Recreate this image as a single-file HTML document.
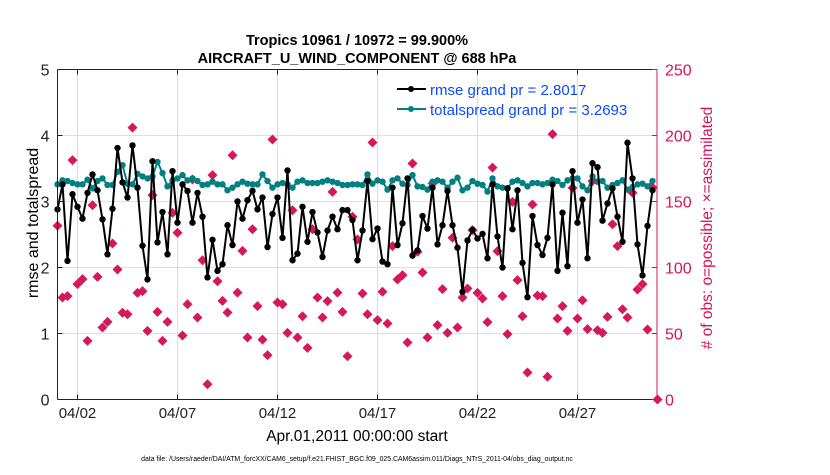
<!DOCTYPE html>
<html><head><meta charset="utf-8">
<style>
body{margin:0;background:#fff;}
svg text{font-family:"Liberation Sans",Helvetica,Arial,sans-serif;}
</style></head>
<body>
<svg id="chart" width="830" height="470" viewBox="0 0 830 470" xmlns="http://www.w3.org/2000/svg">
<g id="grid"></g>
<g id="series"></g>
<g id="axes"></g>
<text x="357" y="45" text-anchor="middle" font-size="14.5" font-weight="bold">Tropics 10961 / 10972 = 99.900%</text>
<text x="357" y="63" text-anchor="middle" font-size="14.5" font-weight="bold">AIRCRAFT_U_WIND_COMPONENT @ 688 hPa</text>
<text transform="translate(38,223) rotate(-90)" text-anchor="middle" font-size="16">rmse and totalspread</text>
<text transform="translate(712,228) rotate(-90)" text-anchor="middle" font-size="15.5" fill="#d4145a"># of obs: o=possible; ×=assimilated</text>
<text x="357" y="441" text-anchor="middle" font-size="15.5">Apr.01,2011 00:00:00 start</text>
<text x="357" y="461" text-anchor="middle" font-size="6.9">data file: /Users/raeder/DAI/ATM_forcXX/CAM6_setup/f.e21.FHIST_BGC.f09_025.CAM6assim.011/Diags_NTrS_2011-04/obs_diag_output.nc</text>
<g>
 <line x1="397" y1="89" x2="426" y2="89" stroke="#000" stroke-width="2"/>
 <circle cx="411" cy="89" r="3" fill="#000"/>
 <text x="430" y="95" font-size="15" fill="#0a4bff">rmse grand pr = 2.8017</text>
 <line x1="397" y1="109" x2="426" y2="109" stroke="#008080" stroke-width="2"/>
 <circle cx="411" cy="109" r="3" fill="#008080"/>
 <text x="430" y="115" font-size="15" fill="#0a4bff">totalspread grand pr = 3.2693</text>
</g>
</svg>
<script>
const rmse=[2.88,3.26,2.10,3.11,2.92,2.74,3.13,3.41,3.17,2.73,2.20,2.89,3.81,3.29,3.06,3.85,3.21,2.33,1.82,3.61,2.38,2.84,2.20,3.46,2.68,3.26,3.16,2.68,3.13,2.77,1.85,2.42,1.95,2.05,2.64,2.34,3.00,2.74,3.02,3.16,2.88,
3.06,2.31,2.81,3.06,2.45,3.47,2.11,2.21,2.92,2.39,2.84,2.53,2.16,2.56,2.77,2.58,2.87,2.87,2.72,2.11,2.56,3.31,2.43,2.59,2.09,2.05,3.21,2.34,2.67,3.35,2.18,2.26,2.78,2.59,3.21,2.35,2.64,3.16,2.64,2.30,
1.63,2.41,2.57,2.44,2.51,2.14,3.26,2.47,2.00,3.20,2.58,3.17,2.07,1.55,2.78,2.34,2.19,2.45,3.26,1.95,2.83,2.02,3.46,2.68,3.03,2.14,3.58,3.52,2.71,2.97,3.20,2.77,2.39,3.89,3.35,2.35,1.88,2.63,3.17];
const spread=[3.26,3.32,3.31,3.28,3.26,3.26,3.33,3.20,3.31,3.35,3.25,3.25,3.45,3.55,3.27,3.26,3.42,3.38,3.35,3.38,3.60,3.43,3.23,3.32,3.35,3.40,3.32,3.35,3.31,3.25,3.26,3.30,3.26,3.26,3.17,3.21,3.26,3.30,3.27,3.26,3.26,
3.41,3.31,3.21,3.26,3.28,3.26,3.21,3.30,3.32,3.28,3.28,3.28,3.30,3.32,3.30,3.28,3.25,3.25,3.26,3.26,3.25,3.41,3.27,3.32,3.30,3.18,3.32,3.35,3.27,3.25,3.40,3.23,3.22,3.18,3.30,3.32,3.30,3.21,3.30,3.36,
3.17,3.21,3.31,3.27,3.25,3.15,3.35,3.23,3.21,3.20,3.30,3.32,3.28,3.23,3.28,3.28,3.26,3.28,3.33,3.31,3.25,3.32,3.35,3.35,3.23,3.17,3.38,3.30,3.31,3.21,3.25,3.28,3.32,3.18,3.22,3.26,3.27,3.23,3.31];
const nobs=[131.6,77.3,78.3,181.3,87.4,91.2,44.4,147.2,92.9,54.5,58.8,118.2,98.5,65.7,64.6,206,80.8,82.1,52,154.8,66.4,44.4,58.8,141.4,126.3,48.5,72.2,166.7,62.1,105.5,11.6,170,89.6,74.7,65.9,185,81,112.6,47,129,70.7,
45.4,33.6,197,73.5,72.2,50.5,143.4,47,63.1,39.1,129,77.3,62.1,74.5,157.3,81,66.4,32.8,138.4,121.2,80.3,64.6,194.7,60.1,81.6,57.6,116.2,90.9,94.2,43.2,178.8,111.9,96.2,47,163.6,56.3,83.6,50.5,122.5,54.5,
77.3,84.1,128.3,80.8,76.5,58.6,175.7,112.4,78.3,49.5,149.7,90.4,63.1,20.5,147.7,78.8,78.3,17.2,201,61.4,70.7,52,160.3,61.4,75.2,53.3,165.4,52.5,50.5,62.6,132.8,116.2,68.4,62.1,156.6,83.3,87.4,53,160.6,0];
const xTickLabels=["04/02","04/07","04/12","04/17","04/22","04/27"];
const xTickDays=[1,6,11,16,21,26];
const yLeftTicks=[0,1,2,3,4,5];
const yRightTicks=[0,50,100,150,200,250];

const NS="http://www.w3.org/2000/svg";
const L=57.5,R=657,T=69.5,B=399.5;
const xDay=d=>L+d*20;
const xBin=i=>xDay(i*0.25);
const yL=v=>B-v*(B-T)/5;
const yR=v=>B-v*(B-T)/250;
function mk(tag,attrs,parent){const e=document.createElementNS(NS,tag);for(const k in attrs)e.setAttribute(k,attrs[k]);parent.appendChild(e);return e;}
const grid=document.getElementById('grid'),ser=document.getElementById('series'),ax=document.getElementById('axes');

yLeftTicks.forEach(v=>{if(v>0&&v<5){const g=mk('line',{x1:L,x2:R,y1:yL(v),y2:yL(v),stroke:'#f2d6e0','stroke-width':1},grid);

}});
xTickDays.forEach((d,i)=>{const g=mk('line',{x1:xDay(d),x2:xDay(d),y1:T,y2:B,stroke:'#dcdcdc','stroke-width':1},grid);


const t=mk('line',{x1:xDay(d),x2:xDay(d),y1:B,y2:B-5,stroke:'#222'},ax);


const t2=mk('line',{x1:xDay(d),x2:xDay(d),y1:T,y2:T+5,stroke:'#222'},ax);


const lb=mk('text',{x:xDay(d),y:418,'text-anchor':'middle','font-size':15,fill:'#222'},ax);lb.textContent=xTickLabels[i];

});

nobs.forEach((v,i)=>{const x=xBin(i),y=yR(v);
const m=mk('path',{d:`M${x} ${y-5}L${x+5} ${y}L${x} ${y+5}L${x-5} ${y}Z`,fill:'#d6175c'},ser);

});

function line(arr,color,name){
 const p=mk('polyline',{points:arr.map((v,i)=>xBin(i)+','+yL(v)).join(' '),fill:'none',stroke:color,'stroke-width':2,'stroke-linejoin':'round'},ser);
 
 
 arr.forEach((v,i)=>{const c=mk('circle',{cx:xBin(i),cy:yL(v),r:3.2,fill:color},ser);
 
 });
}
line(spread,'#008080','totalspread');
line(rmse,'#000000','rmse');

const fl=mk('line',{x1:L,x2:L,y1:T,y2:B,stroke:'#222','stroke-width':1},ax);


const fb=mk('line',{x1:L,x2:R,y1:B,y2:B,stroke:'#222','stroke-width':1},ax);


const ft=mk('line',{x1:L,x2:R,y1:T,y2:T,stroke:'#222','stroke-width':1},ax);


const fr=mk('line',{x1:R,x2:R,y1:T,y2:B,stroke:'#d4145a','stroke-width':1},ax);


yLeftTicks.forEach(v=>{const t=mk('line',{x1:L,x2:L+5,y1:yL(v),y2:yL(v),stroke:'#222'},ax);


const lb=mk('text',{x:L-8,y:yL(v)+6,'text-anchor':'end','font-size':16,fill:'#222'},ax);lb.textContent=v;

});
yRightTicks.forEach(v=>{const t=mk('line',{x1:R,x2:R-5,y1:yR(v),y2:yR(v),stroke:'#d4145a'},ax);


const lb=mk('text',{x:R+8,y:yR(v)+6,'text-anchor':'start','font-size':16,fill:'#d4145a'},ax);lb.textContent=v;

});
</script>
</body></html>
